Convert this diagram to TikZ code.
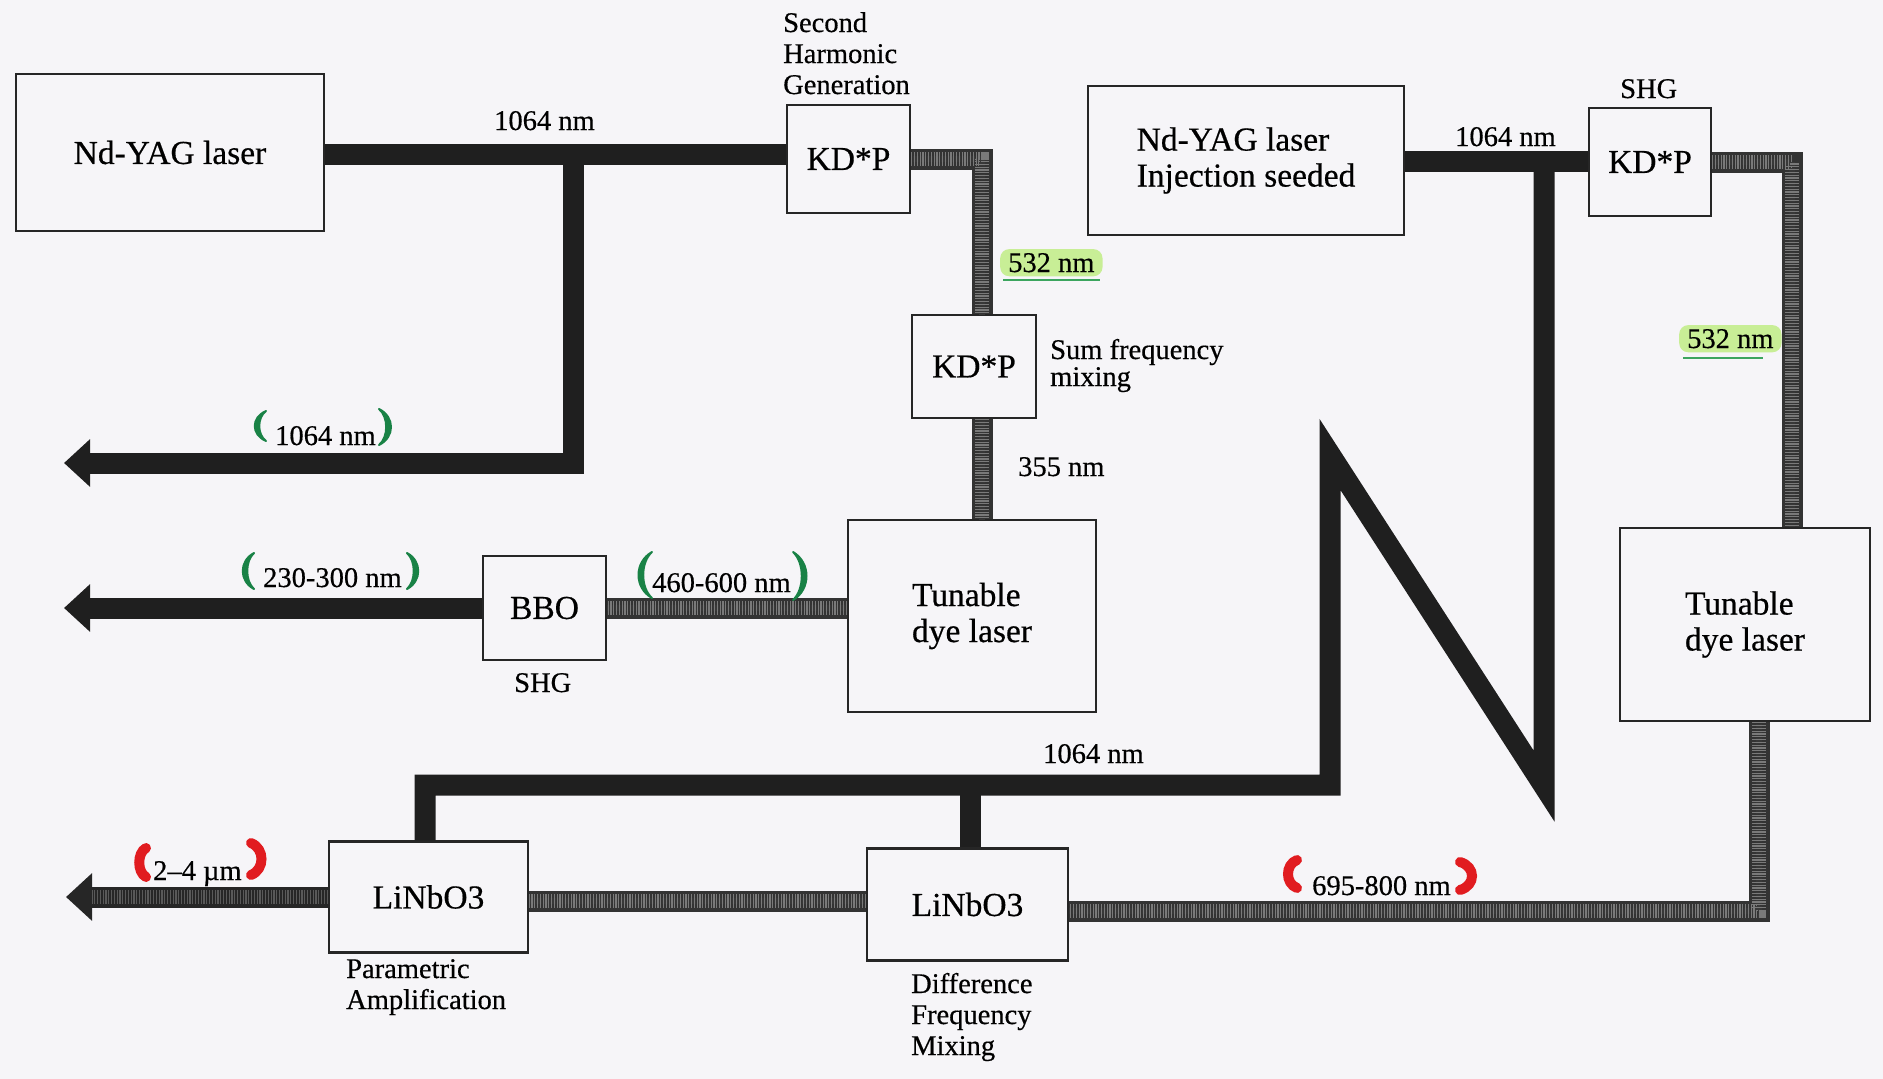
\documentclass[tikz,border=0pt]{standalone}
\usepackage{fontspec}
\setmainfont{Liberation Serif}[FakeBold=0.5]
\usetikzlibrary{arrows.meta}
\definecolor{pargreen}{RGB}{25,130,70}
\definecolor{parred}{RGB}{225,28,32}
\definecolor{hilite}{RGB}{200,238,150}
\definecolor{hiline}{RGB}{60,165,95}
\definecolor{paper}{RGB}{246,245,248}
\newcommand\crescent[6]{%
  \filldraw[#6, line width=2pt, line join=round] (#1,#2)
    .. controls ({#1+(#4)},{#2+0.22*(#3-#2)}) and ({#1+(#4)},{#3-0.22*(#3-#2)}) .. (#1,#3)
    .. controls ({#1+(#5)*(#4)},{#3-0.22*(#3-#2)}) and ({#1+(#5)*(#4)},{#2+0.22*(#3-#2)}) .. (#1,#2) -- cycle;}
\newcommand\redblob[4]{%
  \draw[parred, line width=10pt, line cap=round] (#1,{#2+5})
    .. controls ({#1+(#4)},{#2+0.25*(#3-#2)}) and ({#1+(#4)},{#3-0.25*(#3-#2)}) .. (#1,{#3-5});}
\tikzset{
  box/.style={draw=black!85, line width=2.5pt, fill=paper, inner sep=0pt,
    font=\fontsize{33.5}{36}\selectfont},
  lbl/.style={inner sep=0pt, font=\fontsize{28.5}{31}\selectfont},
  beam/.style={draw=black!88, line width=21pt, line join=miter, line cap=butt},
  hatchtex/.style={draw=black!52, line width=14pt, dash pattern=on 1.2pt off 1.6pt, line join=miter,
    postaction={draw=black!78, line width=6pt, dash pattern=on 1.2pt off 1.6pt, dash phase=1.4pt}},
  darktex/.style={draw=black!65, line width=14pt, dash pattern=on 1.2pt off 1.6pt},
  hbeam/.style={draw=black!80, line width=21pt, line join=miter, line cap=butt,
    postaction={hatchtex}},
  tipL/.style={-{Triangle[length=26pt,width=46pt]}},
  hl/.style={lbl, fill=hilite, rounded corners=9pt, inner xsep=8pt, inner ysep=4pt}
}
\begin{document}
\begin{tikzpicture}[x=1pt,y=-1pt]
\path[use as bounding box, fill=paper] (0,0) rectangle (1883,1079);

% boxes
\node[box, minimum width=308pt, minimum height=157pt] (yag1) at (170,152.5) {Nd-YAG laser};
\node[box, minimum width=123pt, minimum height=108pt] (kdp1) at (848.5,159) {KD*P};
\node[box, minimum width=124pt, minimum height=103pt] (kdp2) at (974,366.5) {KD*P};
\node[box, minimum width=248pt, minimum height=192pt, align=left] (dye1) at (972,616) {Tunable\\dye laser};
\node[box, minimum width=123pt, minimum height=104pt] (bbo) at (544.5,608) {BBO};
\node[box, minimum width=316pt, minimum height=149pt, align=left] (yag2) at (1246,160.5) {Nd-YAG laser\\Injection seeded};
\node[box, minimum width=122pt, minimum height=108pt] (kdp3) at (1650,162) {KD*P};
\node[box, minimum width=250pt, minimum height=193pt, align=left] (dye2) at (1745,624.5) {Tunable\\dye laser};
\node[box, minimum width=199pt, minimum height=111pt] (lin1) at (428.5,897) {LiNbO3};
\node[box, minimum width=201pt, minimum height=112pt] (lin2) at (967.5,904.5) {LiNbO3};

% named points of the beams
\coordinate (j1) at (573,154);
\coordinate (c1) at (573,463);
\coordinate (out1) at (64,463);
\coordinate (c2) at (982,159);
\coordinate (out2) at (64,608);
\coordinate (j2) at (1544,161);
\coordinate (n1) at (1544,786);
\coordinate (n2) at (1330,454.5);
\coordinate (n3) at (1330,785);
\coordinate (n4) at (425,785);
\coordinate (j3) at (970,785);
\coordinate (c3) at (1792,162);
\coordinate (c4) at (1759,911);
\coordinate (m5) at (700,901);
\coordinate (m6) at (200,897);
\coordinate (out3) at (66,897);
\coordinate (t3) at (92,897);

% black 1064 nm beams
\draw[beam] (yag1.east |- j1) -- (kdp1.west |- j1);
\draw[beam, tipL] (j1) -- (c1) -- (out1);
\draw[beam] (yag2.east |- j2) -- (kdp3.west |- j2);
\draw[beam] (j2) -- (n1) -- (n2) -- (n3) -- (n4) -- (n4 |- lin1.north);
\draw[beam] (j3) -- (j3 |- lin2.north);
\draw[beam, tipL] (bbo.west) -- (out2);

% hatched beams
\draw[hbeam] (kdp1.east) -- (c2) -- (kdp2.north -| c2);
\draw[hbeam] (kdp2.south -| c2) -- (dye1.north -| c2);
\draw[hbeam] (dye1.west |- bbo.east) -- (bbo.east);
\draw[hbeam] (kdp3.east) -- (c3) -- (dye2.north -| c3);
\draw[hbeam] (dye2.south -| c4) -- (c4) -- (lin2.east |- c4);
\draw[hbeam] (lin2.west |- m5) -- (lin1.east |- m5);
\draw[beam, draw=black!85, tipL] (lin1.west |- m6) -- (out3);
\draw[darktex] (lin1.west |- m6) -- (t3);

% labels (anchor = baseline of the last line)
\node[lbl, anchor=base west, align=left] (shg1) at (783,94) {Second\\Harmonic\\Generation};
\node[lbl, anchor=base west] (l1064a) at (494,130) {1064 nm};
\node[lbl, anchor=base west] (l1064b) at (1455,146) {1064 nm};
\node[lbl, anchor=base west] (shg2) at (1620,98) {SHG};
\node[lbl, anchor=base west, align=left, font=\fontsize{28.5}{27}\selectfont] (sfm) at (1050,386) {Sum frequency\\mixing};
\node[lbl, anchor=base west] (l355) at (1018,476) {355 nm};
\node[lbl, anchor=base west] (shg3) at (514,692) {SHG};
\node[lbl, anchor=base west] (l1064c) at (1043,763) {1064 nm};
\node[lbl, anchor=base west, align=left] (pa) at (346,1009) {Parametric\\Amplification};
\node[lbl, anchor=base west, align=left] (dfm) at (911,1055) {Difference\\Frequency\\Mixing};

% highlighted 532 nm labels
\node[hl, anchor=base west] (l532a) at (1000,272) {532 nm};
\draw[hiline, line width=2pt] (1003,280) -- (1100,280);
\node[hl, anchor=base west] (l532b) at (1679,348) {532 nm};
\draw[hiline, line width=2pt] (1683,358) -- (1763,358);

% output labels with hand-drawn brackets
\node[lbl, anchor=base west] (o1064) at (275,445) {1064 nm};
\crescent{266}{411}{441}{-15}{0.6}{pargreen}
\crescent{379}{409}{445}{16}{0.6}{pargreen}
\node[lbl, anchor=base west] (o230) at (263,587) {230-300 nm};
\crescent{254}{553}{589}{-15}{0.6}{pargreen}
\crescent{407}{553}{589}{15}{0.6}{pargreen}
\node[lbl, anchor=base west] (o460) at (652,592) {460-600 nm};
\crescent{652}{552}{598}{-18}{0.65}{pargreen}
\crescent{793}{552}{600}{18}{0.65}{pargreen}
\node[lbl, anchor=base west] (o24) at (153,880) {2–4 µm};
\redblob{146}{843}{882}{-9}
\redblob{251}{838}{880}{14}
\node[lbl, anchor=base west] (o695) at (1312,895) {695-800 nm};
\redblob{1297}{855}{893}{-12}
\redblob{1460}{857}{895}{16}
\end{tikzpicture}
\end{document}
